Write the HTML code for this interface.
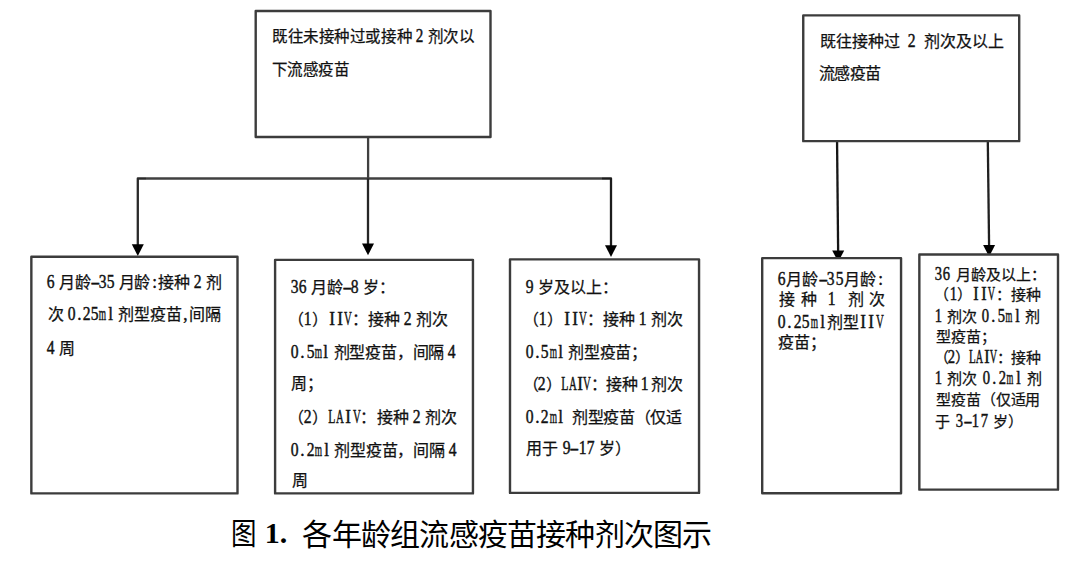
<!DOCTYPE html>
<html lang="zh-CN"><head><meta charset="utf-8">
<style>
html,body{margin:0;padding:0;background:#fff;}
body{width:1080px;height:563px;position:relative;overflow:hidden;font-family:"Liberation Serif",serif;color:#000;}
.bx{position:absolute;box-sizing:border-box;border:2px solid #3a3a3a;background:#fff;}
.t{position:absolute;white-space:nowrap;line-height:1;font-weight:500;color:#111;-webkit-text-stroke:0.25px #111;}
.t u{font-weight:normal;}
.t i{display:inline-block;font-style:normal;overflow:visible;}
.t i.h{text-align:center;}
.t u{display:inline-block;text-decoration:none;-webkit-text-stroke:0.45px #111;font-family:"Liberation Serif",serif;font-size:1.19em;transform-origin:50% 0;margin:0 -10px;}
svg{position:absolute;left:0;top:0;}
.cap{position:absolute;white-space:pre;font-size:30px;line-height:1;color:#000;}
.cap.nar{transform:scaleX(0.85);transform-origin:0 0;}
.cap.num{font-family:"Liberation Serif",serif;font-weight:bold;}
</style></head><body>
<svg width="1080" height="563" viewBox="0 0 1080 563">
<g>
<g fill="none" stroke-linejoin="round">
<path d="M368.1,137 V178.5" stroke="#404040" stroke-width="2.3"/>
<path d="M146,178.5 H602" stroke="#404040" stroke-width="2.3"/>
<path d="M137.8,246 V178.5 H146" stroke="#2a2a2a" stroke-width="2.3"/>
<path d="M611,247 V178.5 H602" stroke="#1c1c1c" stroke-width="2.3"/>
<path d="M368,178.5 V245" stroke="#262626" stroke-width="2.3"/>
<path d="M837.05,141 L838.15,252" stroke="#161616" stroke-width="2.3"/>
<path d="M987.8,141 L989.1,247" stroke="#202020" stroke-width="2.3"/>
</g>
<g fill="#000">
<polygon points="131.8,244.2 143.8,244.2 137.8,255.9"/>
<polygon points="362,243.5 374,243.5 368,255.3"/>
<polygon points="605,245.2 617,245.2 611,256.9"/>
<polygon points="832.2,250.4 844.2,250.4 838.2,262"/>
<polygon points="983.1,245 995.1,245 989.1,256.7"/>
</g>
<g fill="#fff" stroke="#3c3c3c" stroke-width="2.4" stroke-linejoin="round">
<rect x="255.7" y="11" width="234.8" height="126"/>
<rect x="31.35" y="256.7" width="206.15" height="236.7"/>
<rect x="275.1" y="259.85" width="197.85" height="233.55"/>
<rect x="510" y="259.35" width="189.05" height="233.55"/>
<rect x="803.25" y="15.4" width="215.95" height="125.75"/>
<rect x="762.2" y="258.15" width="138.85" height="235.15"/>
<rect x="919.35" y="254.5" width="138.65" height="235.15"/>
</g>
</g>
</svg>
<div class="t" id="A1" style="left:272.00px;top:26.50px;font-size:15.5px"><i style="width:15.571px">既</i><i style="width:15.571px">往</i><i style="width:15.571px">未</i><i style="width:15.571px">接</i><i style="width:15.571px">种</i><i style="width:15.571px">过</i><i style="width:15.571px">或</i><i style="width:15.571px">接</i><i style="width:15.571px">种</i><i style="width:3.971px">&#160;</i><i class="h" style="width:7.821px"><u style="transform:scaleX(0.819)">2</u></i><i style="width:3.971px">&#160;</i><i style="width:15.571px">剂</i><i style="width:15.571px">次</i><i style="width:15.571px">以</i></div>
<div class="t" id="A2" style="left:271.50px;top:62.00px;font-size:15.5px"><i style="width:15.500px">下</i><i style="width:15.500px">流</i><i style="width:15.500px">感</i><i style="width:15.500px">疫</i><i style="width:15.500px">苗</i></div>
<div class="t" id="B1a" style="left:47.00px;top:271.50px;font-size:16px"><i class="h" style="width:7.938px"><u style="transform:scaleX(0.819)">6</u></i><i style="width:3.938px">&#160;</i><i style="width:15.938px">月</i><i style="width:15.938px">龄</i><i class="h" style="width:7.938px"><u style="transform:scaleX(1.500)">-</u></i><i class="h" style="width:7.938px"><u style="transform:scaleX(0.819)">3</u></i><i class="h" style="width:7.938px"><u style="transform:scaleX(0.819)">5</u></i><i style="width:3.938px">&#160;</i><i style="width:15.938px">月</i><i style="width:15.938px">龄</i><i class="h" style="width:7.938px"><u style="transform:scaleX(0.900)">:</u></i><i style="width:15.938px">接</i><i style="width:15.938px">种</i><i style="width:3.938px">&#160;</i><i class="h" style="width:7.938px"><u style="transform:scaleX(0.819)">2</u></i><i style="width:3.938px">&#160;</i><i style="width:15.938px">剂</i></div>
<div class="t" id="B1b" style="left:47.80px;top:303.60px;font-size:16px"><i style="width:15.827px">次</i><i style="width:3.827px">&#160;</i><i class="h" style="width:7.827px"><u style="transform:scaleX(0.819)">0</u></i><i class="h" style="width:7.827px"><u style="transform:scaleX(0.900)">.</u></i><i class="h" style="width:7.827px"><u style="transform:scaleX(0.819)">2</u></i><i class="h" style="width:7.827px"><u style="transform:scaleX(0.819)">5</u></i><i class="h" style="width:7.827px"><u style="transform:scaleX(0.492)">m</u></i><i class="h" style="width:7.827px"><u style="transform:scaleX(0.900)">l</u></i><i style="width:3.827px">&#160;</i><i style="width:15.827px">剂</i><i style="width:15.827px">型</i><i style="width:15.827px">疫</i><i style="width:15.827px">苗</i><i class="h" style="width:7.827px"><u style="transform:scaleX(0.900)">,</u></i><i style="width:15.827px">间</i><i style="width:15.827px">隔</i></div>
<div class="t" id="B1c" style="left:47.20px;top:338.00px;font-size:16px"><i class="h" style="width:7.800px"><u style="transform:scaleX(0.819)">4</u></i><i style="width:3.800px">&#160;</i><i style="width:15.800px">周</i></div>
<div class="t" id="B2a" style="left:291.00px;top:277.00px;font-size:16px"><i class="h" style="width:8.000px"><u style="transform:scaleX(0.819)">3</u></i><i class="h" style="width:8.000px"><u style="transform:scaleX(0.819)">6</u></i><i style="width:4.000px">&#160;</i><i style="width:16.000px">月</i><i style="width:16.000px">龄</i><i class="h" style="width:8.000px"><u style="transform:scaleX(1.500)">-</u></i><i class="h" style="width:8.000px"><u style="transform:scaleX(0.819)">8</u></i><i style="width:4.000px">&#160;</i><i style="width:16.000px">岁</i><i style="width:16.000px">：</i></div>
<div class="t" id="B2b" style="left:288.00px;top:309.00px;font-size:16px"><i style="width:16.000px">（</i><i class="h" style="width:8.000px"><u style="transform:scaleX(0.819)">1</u></i><i style="width:16.000px">）</i><i class="h" style="width:8.000px"><u style="transform:scaleX(0.900)">I</u></i><i class="h" style="width:8.000px"><u style="transform:scaleX(0.900)">I</u></i><i class="h" style="width:8.000px"><u style="transform:scaleX(0.567)">V</u></i><i style="width:16.000px">：</i><i style="width:16.000px">接</i><i style="width:16.000px">种</i><i style="width:4.000px">&#160;</i><i class="h" style="width:8.000px"><u style="transform:scaleX(0.819)">2</u></i><i style="width:4.000px">&#160;</i><i style="width:16.000px">剂</i><i style="width:16.000px">次</i></div>
<div class="t" id="B2c" style="left:291.00px;top:342.00px;font-size:16px"><i class="h" style="width:7.786px"><u style="transform:scaleX(0.819)">0</u></i><i class="h" style="width:7.786px"><u style="transform:scaleX(0.900)">.</u></i><i class="h" style="width:7.786px"><u style="transform:scaleX(0.819)">5</u></i><i class="h" style="width:7.786px"><u style="transform:scaleX(0.492)">m</u></i><i class="h" style="width:7.786px"><u style="transform:scaleX(0.900)">l</u></i><i style="width:3.786px">&#160;</i><i style="width:15.786px">剂</i><i style="width:15.786px">型</i><i style="width:15.786px">疫</i><i style="width:15.786px">苗</i><i style="width:15.786px">，</i><i style="width:15.786px">间</i><i style="width:15.786px">隔</i><i style="width:3.786px">&#160;</i><i class="h" style="width:7.786px"><u style="transform:scaleX(0.819)">4</u></i></div>
<div class="t" id="B2d" style="left:291.00px;top:376.00px;font-size:16px"><i style="width:16.000px">周</i><i style="width:16.000px">；</i></div>
<div class="t" id="B2e" style="left:288.00px;top:407.00px;font-size:16px"><i style="width:16.071px">（</i><i class="h" style="width:8.071px"><u style="transform:scaleX(0.819)">2</u></i><i style="width:16.071px">）</i><i class="h" style="width:8.071px"><u style="transform:scaleX(0.614)">L</u></i><i class="h" style="width:8.071px"><u style="transform:scaleX(0.567)">A</u></i><i class="h" style="width:8.071px"><u style="transform:scaleX(0.900)">I</u></i><i class="h" style="width:8.071px"><u style="transform:scaleX(0.567)">V</u></i><i style="width:16.071px">：</i><i style="width:16.071px">接</i><i style="width:16.071px">种</i><i style="width:4.071px">&#160;</i><i class="h" style="width:8.071px"><u style="transform:scaleX(0.819)">2</u></i><i style="width:4.071px">&#160;</i><i style="width:16.071px">剂</i><i style="width:16.071px">次</i></div>
<div class="t" id="B2f" style="left:291.00px;top:439.50px;font-size:16px"><i class="h" style="width:7.857px"><u style="transform:scaleX(0.819)">0</u></i><i class="h" style="width:7.857px"><u style="transform:scaleX(0.900)">.</u></i><i class="h" style="width:7.857px"><u style="transform:scaleX(0.819)">2</u></i><i class="h" style="width:7.857px"><u style="transform:scaleX(0.492)">m</u></i><i class="h" style="width:7.857px"><u style="transform:scaleX(0.900)">l</u></i><i style="width:3.857px">&#160;</i><i style="width:15.857px">剂</i><i style="width:15.857px">型</i><i style="width:15.857px">疫</i><i style="width:15.857px">苗</i><i style="width:15.857px">，</i><i style="width:15.857px">间</i><i style="width:15.857px">隔</i><i style="width:3.857px">&#160;</i><i class="h" style="width:7.857px"><u style="transform:scaleX(0.819)">4</u></i></div>
<div class="t" id="B2g" style="left:291.80px;top:473.00px;font-size:16px"><i style="width:16.000px">周</i></div>
<div class="t" id="B3a" style="left:526.00px;top:277.00px;font-size:16px"><i class="h" style="width:8.000px"><u style="transform:scaleX(0.819)">9</u></i><i style="width:4.000px">&#160;</i><i style="width:16.000px">岁</i><i style="width:16.000px">及</i><i style="width:16.000px">以</i><i style="width:16.000px">上</i><i style="width:16.000px">：</i></div>
<div class="t" id="B3b" style="left:523.00px;top:309.00px;font-size:16px"><i style="width:16.000px">（</i><i class="h" style="width:8.000px"><u style="transform:scaleX(0.819)">1</u></i><i style="width:16.000px">）</i><i class="h" style="width:8.000px"><u style="transform:scaleX(0.900)">I</u></i><i class="h" style="width:8.000px"><u style="transform:scaleX(0.900)">I</u></i><i class="h" style="width:8.000px"><u style="transform:scaleX(0.567)">V</u></i><i style="width:16.000px">：</i><i style="width:16.000px">接</i><i style="width:16.000px">种</i><i style="width:4.000px">&#160;</i><i class="h" style="width:8.000px"><u style="transform:scaleX(0.819)">1</u></i><i style="width:4.000px">&#160;</i><i style="width:16.000px">剂</i><i style="width:16.000px">次</i></div>
<div class="t" id="B3c" style="left:526.00px;top:342.00px;font-size:16px"><i class="h" style="width:7.700px"><u style="transform:scaleX(0.819)">0</u></i><i class="h" style="width:7.700px"><u style="transform:scaleX(0.900)">.</u></i><i class="h" style="width:7.700px"><u style="transform:scaleX(0.819)">5</u></i><i class="h" style="width:7.700px"><u style="transform:scaleX(0.492)">m</u></i><i class="h" style="width:7.700px"><u style="transform:scaleX(0.900)">l</u></i><i style="width:3.700px">&#160;</i><i style="width:15.700px">剂</i><i style="width:15.700px">型</i><i style="width:15.700px">疫</i><i style="width:15.700px">苗</i><i style="width:15.700px">；</i></div>
<div class="t" id="B3d" style="left:523.00px;top:374.00px;font-size:16px"><i style="width:15.429px">（</i><i class="h" style="width:7.429px"><u style="transform:scaleX(0.819)">2</u></i><i style="width:15.429px">）</i><i class="h" style="width:7.429px"><u style="transform:scaleX(0.614)">L</u></i><i class="h" style="width:7.429px"><u style="transform:scaleX(0.567)">A</u></i><i class="h" style="width:7.429px"><u style="transform:scaleX(0.900)">I</u></i><i class="h" style="width:7.429px"><u style="transform:scaleX(0.567)">V</u></i><i style="width:15.429px">：</i><i style="width:15.429px">接</i><i style="width:15.429px">种</i><i style="width:3.429px">&#160;</i><i class="h" style="width:7.429px"><u style="transform:scaleX(0.819)">1</u></i><i style="width:3.429px">&#160;</i><i style="width:15.429px">剂</i><i style="width:15.429px">次</i></div>
<div class="t" id="B3e" style="left:526.00px;top:407.00px;font-size:16px"><i class="h" style="width:7.692px"><u style="transform:scaleX(0.819)">0</u></i><i class="h" style="width:7.692px"><u style="transform:scaleX(0.900)">.</u></i><i class="h" style="width:7.692px"><u style="transform:scaleX(0.819)">2</u></i><i class="h" style="width:7.692px"><u style="transform:scaleX(0.492)">m</u></i><i class="h" style="width:7.692px"><u style="transform:scaleX(0.900)">l</u></i><i style="width:3.692px">&#160;</i><i style="width:3.692px">&#160;</i><i style="width:15.692px">剂</i><i style="width:15.692px">型</i><i style="width:15.692px">疫</i><i style="width:15.692px">苗</i><i style="width:15.692px">（</i><i style="width:15.692px">仅</i><i style="width:15.692px">适</i></div>
<div class="t" id="B3f" style="left:526.00px;top:438.00px;font-size:16px"><i style="width:16.111px">用</i><i style="width:16.111px">于</i><i style="width:4.111px">&#160;</i><i class="h" style="width:8.111px"><u style="transform:scaleX(0.819)">9</u></i><i class="h" style="width:8.111px"><u style="transform:scaleX(1.500)">-</u></i><i class="h" style="width:8.111px"><u style="transform:scaleX(0.819)">1</u></i><i class="h" style="width:8.111px"><u style="transform:scaleX(0.819)">7</u></i><i style="width:4.111px">&#160;</i><i style="width:16.111px">岁</i><i style="width:16.111px">）</i></div>
<div class="t" id="C1" style="left:819.50px;top:30.50px;font-size:16px"><i style="width:16.000px">既</i><i style="width:16.000px">往</i><i style="width:16.000px">接</i><i style="width:16.000px">种</i><i style="width:16.000px">过</i><i style="width:8.000px">&#160;</i><i class="h" style="width:8.000px"><u style="transform:scaleX(0.819)">2</u></i><i style="width:8.000px">&#160;</i><i style="width:16.000px">剂</i><i style="width:16.000px">次</i><i style="width:16.000px">及</i><i style="width:16.000px">以</i><i style="width:16.000px">上</i></div>
<div class="t" id="C2" style="left:818.50px;top:66.00px;font-size:16px"><i style="width:15.667px">流</i><i style="width:15.667px">感</i><i style="width:15.667px">疫</i><i style="width:15.667px">苗</i></div>
<div class="t" id="D1a" style="left:777.40px;top:268.80px;font-size:16px"><i class="h" style="width:8.400px"><u style="transform:scaleX(0.819)">6</u></i><i style="width:16.400px">月</i><i style="width:16.400px">龄</i><i class="h" style="width:8.400px"><u style="transform:scaleX(1.500)">-</u></i><i class="h" style="width:8.400px"><u style="transform:scaleX(0.819)">3</u></i><i class="h" style="width:8.400px"><u style="transform:scaleX(0.819)">5</u></i><i style="width:16.400px">月</i><i style="width:16.400px">龄</i><i class="h" style="width:8.400px"><u style="transform:scaleX(0.900)">:</u></i></div>
<div class="t" id="D1b" style="left:778.80px;top:288.80px;font-size:16px"><i style="width:15.860px">接</i><i style="width:5.860px">&#160;</i><i style="width:15.860px">种</i><i style="width:5.860px">&#160;</i><i style="width:5.860px">&#160;</i><i class="h" style="width:7.860px"><u style="transform:scaleX(0.819)">1</u></i><i style="width:5.860px">&#160;</i><i style="width:5.860px">&#160;</i><i style="width:15.860px">剂</i><i style="width:5.860px">&#160;</i><i style="width:15.860px">次</i></div>
<div class="t" id="D1c" style="left:777.40px;top:311.80px;font-size:16px"><i class="h" style="width:8.240px"><u style="transform:scaleX(0.819)">0</u></i><i class="h" style="width:8.240px"><u style="transform:scaleX(0.900)">.</u></i><i class="h" style="width:8.240px"><u style="transform:scaleX(0.819)">2</u></i><i class="h" style="width:8.240px"><u style="transform:scaleX(0.819)">5</u></i><i class="h" style="width:8.240px"><u style="transform:scaleX(0.492)">m</u></i><i class="h" style="width:8.240px"><u style="transform:scaleX(0.900)">l</u></i><i style="width:16.240px">剂</i><i style="width:16.240px">型</i><i class="h" style="width:8.240px"><u style="transform:scaleX(0.900)">I</u></i><i class="h" style="width:8.240px"><u style="transform:scaleX(0.900)">I</u></i><i class="h" style="width:8.240px"><u style="transform:scaleX(0.567)">V</u></i></div>
<div class="t" id="D1d" style="left:777.80px;top:334.80px;font-size:16px"><i style="width:16.000px">疫</i><i style="width:16.000px">苗</i><i style="width:16.000px">；</i></div>
<div class="t" id="D2a" style="left:935.20px;top:265.60px;font-size:15px"><i class="h" style="width:7.500px"><u style="transform:scaleX(0.818)">3</u></i><i class="h" style="width:7.500px"><u style="transform:scaleX(0.818)">6</u></i><i style="width:6.000px">&#160;</i><i style="width:15.000px">月</i><i style="width:15.000px">龄</i><i style="width:15.000px">及</i><i style="width:15.000px">以</i><i style="width:15.000px">上</i><i style="width:15.000px">：</i></div>
<div class="t" id="D2b" style="left:933.80px;top:285.90px;font-size:15px"><i style="width:15.325px">（</i><i class="h" style="width:7.825px"><u style="transform:scaleX(0.818)">1</u></i><i style="width:15.325px">）</i><i class="h" style="width:7.825px"><u style="transform:scaleX(0.900)">I</u></i><i class="h" style="width:7.825px"><u style="transform:scaleX(0.900)">I</u></i><i class="h" style="width:7.825px"><u style="transform:scaleX(0.566)">V</u></i><i style="width:15.325px">：</i><i style="width:15.325px">接</i><i style="width:15.325px">种</i></div>
<div class="t" id="D2c" style="left:934.40px;top:307.60px;font-size:15px"><i class="h" style="width:7.864px"><u style="transform:scaleX(0.818)">1</u></i><i style="width:4.364px">&#160;</i><i style="width:15.364px">剂</i><i style="width:15.364px">次</i><i style="width:4.364px">&#160;</i><i class="h" style="width:7.864px"><u style="transform:scaleX(0.818)">0</u></i><i class="h" style="width:7.864px"><u style="transform:scaleX(0.900)">.</u></i><i class="h" style="width:7.864px"><u style="transform:scaleX(0.818)">5</u></i><i class="h" style="width:7.864px"><u style="transform:scaleX(0.491)">m</u></i><i class="h" style="width:7.864px"><u style="transform:scaleX(0.900)">l</u></i><i style="width:4.364px">&#160;</i><i style="width:15.364px">剂</i></div>
<div class="t" id="D2d" style="left:936.40px;top:330.20px;font-size:15px"><i style="width:15.000px">型</i><i style="width:15.000px">疫</i><i style="width:15.000px">苗</i><i style="width:15.000px">；</i></div>
<div class="t" id="D2e" style="left:933.80px;top:349.40px;font-size:15px"><i style="width:14.400px">（</i><i class="h" style="width:6.900px"><u style="transform:scaleX(0.818)">2</u></i><i style="width:14.400px">）</i><i class="h" style="width:6.900px"><u style="transform:scaleX(0.613)">L</u></i><i class="h" style="width:6.900px"><u style="transform:scaleX(0.566)">A</u></i><i class="h" style="width:6.900px"><u style="transform:scaleX(0.900)">I</u></i><i class="h" style="width:6.900px"><u style="transform:scaleX(0.566)">V</u></i><i style="width:14.400px">：</i><i style="width:14.400px">接</i><i style="width:14.400px">种</i></div>
<div class="t" id="D2f" style="left:934.40px;top:370.00px;font-size:15px"><i class="h" style="width:7.991px"><u style="transform:scaleX(0.818)">1</u></i><i style="width:4.491px">&#160;</i><i style="width:15.491px">剂</i><i style="width:15.491px">次</i><i style="width:4.491px">&#160;</i><i class="h" style="width:7.991px"><u style="transform:scaleX(0.818)">0</u></i><i class="h" style="width:7.991px"><u style="transform:scaleX(0.900)">.</u></i><i class="h" style="width:7.991px"><u style="transform:scaleX(0.818)">2</u></i><i class="h" style="width:7.991px"><u style="transform:scaleX(0.491)">m</u></i><i class="h" style="width:7.991px"><u style="transform:scaleX(0.900)">l</u></i><i style="width:4.491px">&#160;</i><i style="width:15.491px">剂</i></div>
<div class="t" id="D2g" style="left:936.40px;top:393.40px;font-size:15px"><i style="width:14.833px">型</i><i style="width:14.833px">疫</i><i style="width:14.833px">苗</i><i style="width:14.833px">（</i><i style="width:14.833px">仅</i><i style="width:14.833px">适</i><i style="width:14.833px">用</i></div>
<div class="t" id="D2h" style="left:935.40px;top:413.30px;font-size:15px"><i style="width:15.625px">于</i><i style="width:4.625px">&#160;</i><i class="h" style="width:8.125px"><u style="transform:scaleX(0.818)">3</u></i><i class="h" style="width:8.125px"><u style="transform:scaleX(1.500)">-</u></i><i class="h" style="width:8.125px"><u style="transform:scaleX(0.818)">1</u></i><i class="h" style="width:8.125px"><u style="transform:scaleX(0.818)">7</u></i><i style="width:4.625px">&#160;</i><i style="width:15.625px">岁</i><i style="width:15.625px">）</i></div>
<div class="cap nar" id="CAPa" style="left:231.00px;top:519.00px;letter-spacing:0.000px">图</div>
<div class="cap num" id="CAPb" style="left:264.75px;top:517.70px;letter-spacing:0.000px">1.</div>
<div class="cap " id="CAPc" style="left:302.40px;top:520.00px;letter-spacing:-0.769px">各年龄组流感疫苗接种剂次图示</div>

</body></html>
